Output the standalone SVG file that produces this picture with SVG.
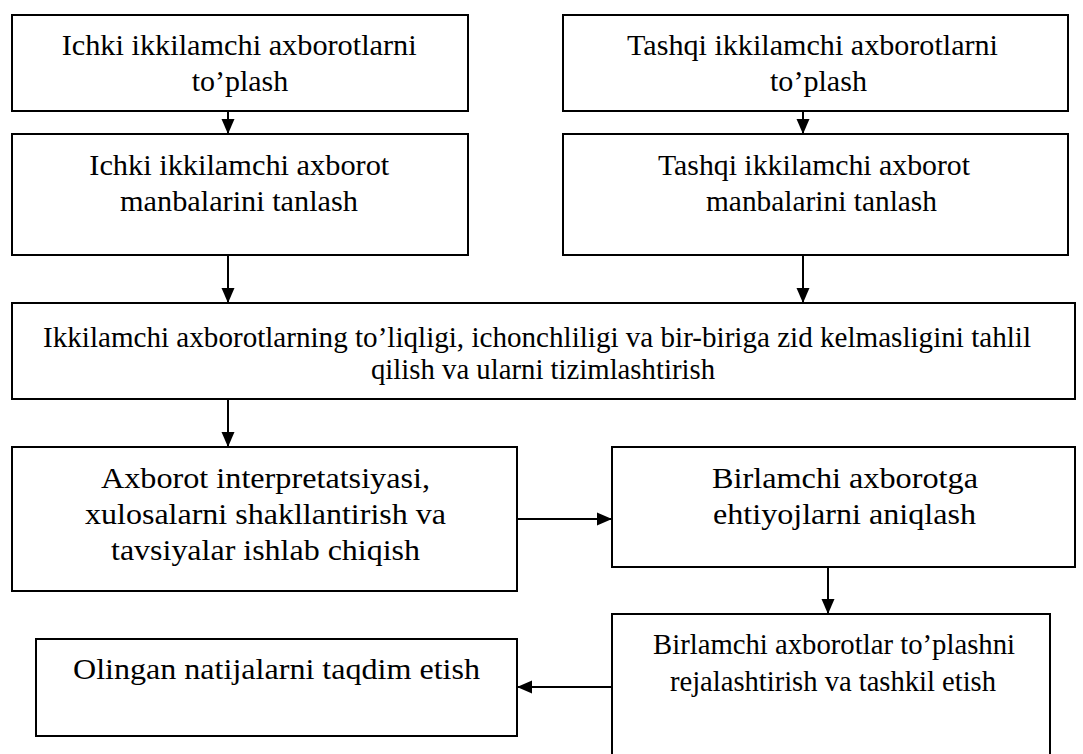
<svg xmlns="http://www.w3.org/2000/svg" width="1083" height="754" viewBox="0 0 1083 754">
<style>
.box{fill:#fff;stroke:#000;stroke-width:2}
.t{font-family:'Liberation Serif','Times New Roman',serif;font-size:30px;fill:#000}
.c{stroke:#000;stroke-width:2;fill:none}
</style>
<defs>
<marker id="ah" markerUnits="userSpaceOnUse" markerWidth="15" markerHeight="15" viewBox="0 0 15 15" refX="15" refY="7.5" orient="auto">
<path d="M0,1 L15,7.5 L0,14 Z" fill="#000"/>
</marker>
</defs>
<rect width="1083" height="754" fill="#fff"/>
<g id="n1"><rect class="box" x="12" y="15" width="456" height="96"/>
<text class="t" x="61.7" y="55" textLength="355" lengthAdjust="spacingAndGlyphs">Ichki ikkilamchi axborotlarni</text>
<text class="t" x="191.7" y="91" textLength="96.6" lengthAdjust="spacingAndGlyphs">to’plash</text></g>
<g id="n2"><rect class="box" x="12" y="134" width="456" height="121"/>
<text class="t" x="89.3" y="175" textLength="300" lengthAdjust="spacingAndGlyphs">Ichki ikkilamchi axborot</text>
<text class="t" x="120" y="211" textLength="238" lengthAdjust="spacingAndGlyphs">manbalarini tanlash</text></g>
<g id="n3"><rect class="box" x="563" y="15" width="505" height="96"/>
<text class="t" x="627" y="55" textLength="371" lengthAdjust="spacingAndGlyphs">Tashqi ikkilamchi axborotlarni</text>
<text class="t" x="770" y="91" textLength="97" lengthAdjust="spacingAndGlyphs">to’plash</text></g>
<g id="n4"><rect class="box" x="563" y="134" width="505" height="121"/>
<text class="t" x="658" y="175" textLength="312" lengthAdjust="spacingAndGlyphs">Tashqi ikkilamchi axborot</text>
<text class="t" x="706" y="211" textLength="231" lengthAdjust="spacingAndGlyphs">manbalarini tanlash</text></g>
<g id="n5"><rect class="box" x="12" y="303" width="1063" height="96"/>
<text class="t" x="43" y="347" textLength="988" lengthAdjust="spacingAndGlyphs">Ikkilamchi axborotlarning to’liqligi, ichonchliligi va bir-biriga zid kelmasligini tahlil</text>
<text class="t" x="371" y="379" textLength="344" lengthAdjust="spacingAndGlyphs">qilish va ularni tizimlashtirish</text></g>
<g id="n6"><rect class="box" x="12" y="447" width="505" height="144"/>
<text class="t" x="101" y="488" textLength="329" lengthAdjust="spacingAndGlyphs">Axborot interpretatsiyasi,</text>
<text class="t" x="85" y="524" textLength="361" lengthAdjust="spacingAndGlyphs">xulosalarni shakllantirish va</text>
<text class="t" x="111" y="560" textLength="309" lengthAdjust="spacingAndGlyphs">tavsiyalar ishlab chiqish</text></g>
<g id="n7"><rect class="box" x="612" y="447" width="463" height="120"/>
<text class="t" x="712" y="488" textLength="266" lengthAdjust="spacingAndGlyphs">Birlamchi axborotga</text>
<text class="t" x="713" y="524" textLength="263" lengthAdjust="spacingAndGlyphs">ehtiyojlarni aniqlash</text></g>
<g id="n8"><rect class="box" x="612" y="614" width="438" height="150"/>
<text class="t" x="653" y="654" textLength="362" lengthAdjust="spacingAndGlyphs">Birlamchi axborotlar to’plashni</text>
<text class="t" x="670" y="691" textLength="326" lengthAdjust="spacingAndGlyphs">rejalashtirish va tashkil etish</text></g>
<g id="n9"><rect class="box" x="36" y="639" width="481" height="97"/>
<text class="t" x="73" y="679" textLength="407" lengthAdjust="spacingAndGlyphs">Olingan natijalarni taqdim etish</text></g>
<g id="connectors">
<line class="c" x1="228" y1="111" x2="228" y2="134" marker-end="url(#ah)"/>
<line class="c" x1="803" y1="111" x2="803" y2="134" marker-end="url(#ah)"/>
<line class="c" x1="228" y1="255" x2="228" y2="303" marker-end="url(#ah)"/>
<line class="c" x1="803" y1="255" x2="803" y2="303" marker-end="url(#ah)"/>
<line class="c" x1="228" y1="399" x2="228" y2="447" marker-end="url(#ah)"/>
<line class="c" x1="517" y1="519" x2="612" y2="519" marker-end="url(#ah)"/>
<line class="c" x1="828" y1="567" x2="828" y2="614" marker-end="url(#ah)"/>
<line class="c" x1="612" y1="687" x2="517" y2="687" marker-end="url(#ah)"/>
</g>
</svg>
